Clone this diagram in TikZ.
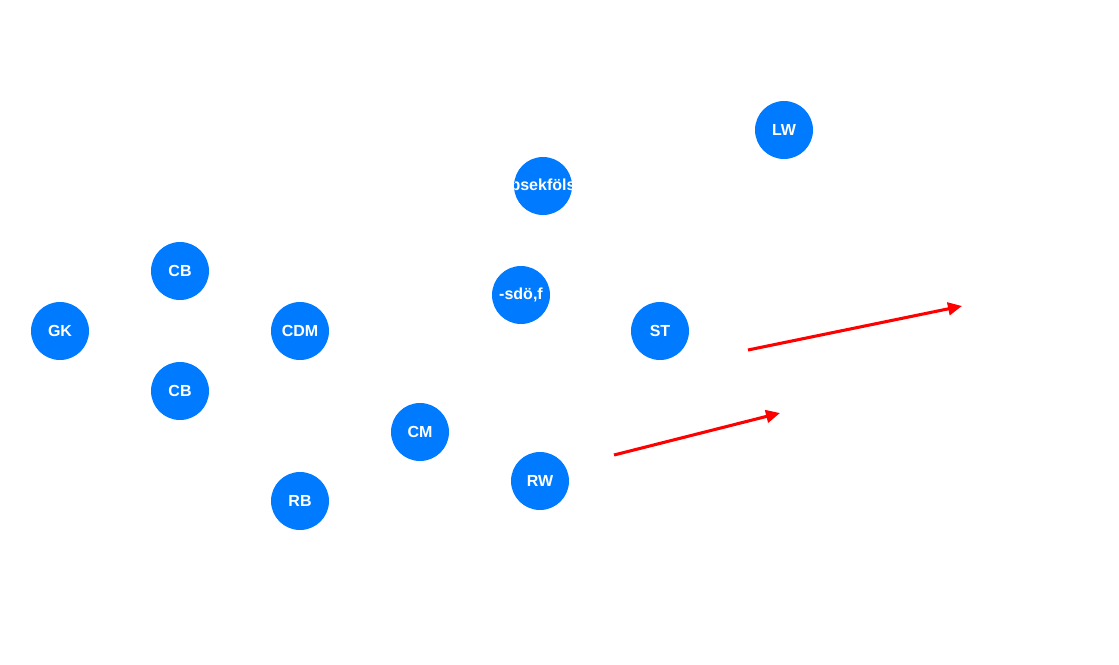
\documentclass[tikz,border=0pt]{standalone}
\usepackage{fontspec}
\setmainfont{Liberation Sans}
\usetikzlibrary{arrows.meta}

\definecolor{playerblue}{HTML}{007BFF}

\tikzset{
  player/.style={circle, fill=playerblue, minimum size=43.5pt, inner sep=0pt,
                 text=white, font=\bfseries\fontsize{12pt}{14pt}\selectfont},
  runarrow/.style={red, line width=2.3pt, -{Triangle[length=10.5pt,width=9.5pt]}}
}

\begin{document}
\begin{tikzpicture}[x=0.75pt,y=-0.75pt]
% Page size of the pitch area
\useasboundingbox (0,0) rectangle (1119,664);

% Players
\foreach \name/\x/\y/\lbl in {gk/60/331/GK, cbt/180/271/CB, cbb/180/391/CB,
    cdm/300/331/CDM, rb/300/501/RB, cm/420/432/CM, rw/540/481/RW,
    sdf/521/295/{-sdö,f}, st/660/331/ST, lw/784/130/LW}
    \node[player] (\name) at (\x,\y) {\lbl};

% This one has a label that is wider than the circle, so it gets cut off
\node[player, path picture={
    \node[text=white, font=\bfseries\fontsize{12pt}{14pt}\selectfont]
      at (path picture bounding box.center) {psekföls};}] (psf) at (543,186) {};

% Runs
\coordinate (run1s) at (748,350);
\coordinate (run1e) at (962,306);
\coordinate (run2s) at (614,455);
\coordinate (run2e) at (780,413);
\draw[runarrow] (run1s) -- (run1e);
\draw[runarrow] (run2s) -- (run2e);

\end{tikzpicture}
\end{document}
